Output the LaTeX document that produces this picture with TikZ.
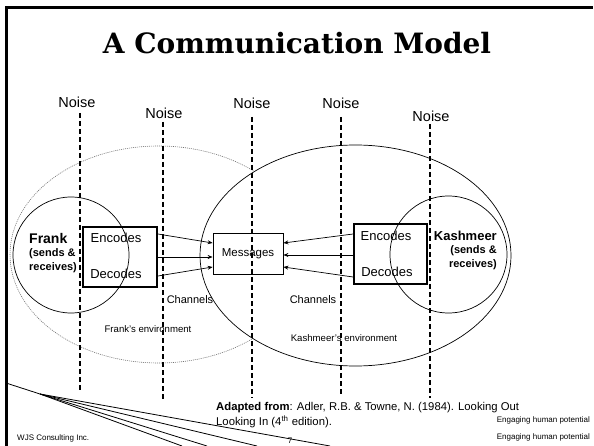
\documentclass[tikz,border=0pt]{standalone}
\usepackage{fontspec}
\setmainfont{Liberation Sans}
\newfontfamily\titlefont{DejaVu Serif}
\usetikzlibrary{arrows.meta}

\begin{document}
\begin{tikzpicture}[x=1pt,y=-1pt,
  frameline/.style={line width=3pt,black},
  noiseline/.style={line width=1.1pt,dash pattern=on 5pt off 3pt},
  noiselabel/.style={font=\fontsize{14.5}{17}\selectfont,inner sep=0pt},
  person/.style={draw,line width=0.7pt,circle,minimum size=116pt,inner sep=0pt},
  codebox/.style={draw,line width=1.8pt,minimum width=74pt,minimum height=60pt,inner sep=0pt},
  codetext/.style={font=\fontsize{13}{15}\selectfont,inner sep=0pt},
  msgbox/.style={draw,line width=0.8pt,minimum width=70pt,minimum height=41pt,inner sep=0pt,
    font=\fontsize{11.5}{13}\selectfont},
  msgarrow/.style={line width=0.7pt,-{Stealth[length=5pt,width=4pt]}},
  smalltext/.style={font=\fontsize{11}{13}\selectfont,inner sep=0pt},
  envtext/.style={font=\fontsize{9.6}{11}\selectfont,inner sep=0pt},
  foot/.style={font=\fontsize{8}{9}\selectfont,inner sep=0pt},
  swoosh/.style={line width=0.8pt}]
\useasboundingbox (0,0) rectangle (594,446);

% slide frame
\draw[frameline] (6,446) -- (6,8) -- (593,8);

% title
\node (title) at (297,43) {\titlefont\bfseries\fontsize{28}{32}\selectfont A Communication Model};

% environments
\draw[black!55,line width=0.6pt,dash pattern=on 1pt off 1pt] (158.7,254.5) ellipse [x radius=148.7, y radius=108.5];
\draw[fill=white,line width=0.7pt] (355.5,255.5) ellipse [x radius=155.5, y radius=110.5];
\node[envtext] (fenv) at (148,329) {Frank’s environment};
\node[envtext] (kenv) at (344,338) {Kashmeer’s environment};

% noise sources with their dashed lines
\node[noiselabel] (n1) at (77,102) {Noise};
\node[noiselabel] (n2) at (164,113) {Noise};
\node[noiselabel] (n3) at (252,103) {Noise};
\node[noiselabel] (n4) at (341,103) {Noise};
\node[noiselabel] (n5) at (431,116) {Noise};
\coordinate (e1) at (80,392);
\coordinate (e2) at (163,400);
\coordinate (e3) at (252,398);
\coordinate (e4) at (341,394);
\coordinate (e5) at (430,398);
\draw[noiseline] (80,113) -- (e1);
\draw[noiseline] (163,122) -- (e2);
\draw[noiseline] (252,117) -- (e3);
\draw[noiseline] (341,117) -- (e4);
\draw[noiseline] (430,124) -- (e5);

% the two persons
\node[person] (frank) at (71,255) {};
\node[person,minimum size=117pt] (kash) at (448.5,254.5) {};

% Frank
\node[font=\bfseries\fontsize{14}{16}\selectfont,inner sep=0pt,anchor=west] (fname) at (29,238) {Frank};
\node[font=\bfseries\fontsize{11}{13}\selectfont,inner sep=0pt,anchor=west] (frole1) at (29,254) {(sends \&};
\node[font=\bfseries\fontsize{11}{13}\selectfont,inner sep=0pt,anchor=west] (frole2) at (29,268) {receives)};
\node[codebox] (fbox) at (120,257) {};
\node[codetext] (fenc) at (116,238) {Encodes};
\node[codetext] (fdec) at (116,274) {Decodes};

% Kashmeer
\node[font=\bfseries\fontsize{13}{15}\selectfont,inner sep=0pt,anchor=east] (kname) at (497,236) {Kashmeer};
\node[font=\bfseries\fontsize{11}{13}\selectfont,inner sep=0pt,anchor=east] (krole1) at (497,251) {(sends \&};
\node[font=\bfseries\fontsize{11}{13}\selectfont,inner sep=0pt,anchor=east] (krole2) at (497,265) {receives)};
\node[codebox,minimum width=73pt] (kbox) at (390.5,254) {};
\node[codetext] (kenc) at (386,236) {Encodes};
\node[codetext] (kdec) at (387,272) {Decodes};

% message and channels
\node[msgbox] (msg) at (248,253.5) {Messages};
\draw[msgarrow] ([yshift=23pt]fbox.east) -- ([yshift=10.5pt]msg.west);
\draw[msgarrow] ([yshift=0pt]fbox.east) -- ([yshift=-3.5pt]msg.west);
\draw[msgarrow] ([yshift=-19pt]fbox.east) -- ([yshift=-13.5pt]msg.west);
\draw[msgarrow] ([yshift=20pt]kbox.west) -- ([yshift=10.5pt]msg.east);
\draw[msgarrow] ([yshift=-1pt]kbox.west) -- ([yshift=-1.5pt]msg.east);
\draw[msgarrow] ([yshift=-23pt]kbox.west) -- ([yshift=-13.5pt]msg.east);
\node[smalltext] (ch1) at (190,300) {Channels};
\node[smalltext] (ch2) at (313,300) {Channels};

% source note
\node[font=\fontsize{11.3}{15}\selectfont,inner sep=0pt,anchor=north west,align=left] (src) at (216,402)
  {\textbf{Adapted from}: Adler, R.B. \& Towne, N. (1984). Looking Out\\Looking In (4\textsuperscript{th} edition).};

% footer
\node[foot,anchor=west] (wjs) at (17,438) {WJS Consulting Inc.};
\node[foot,anchor=east] (eng1) at (590,420) {Engaging human potential};
\node[foot,anchor=east] (eng2) at (590,437) {Engaging human potential};
\node[foot] (page) at (290,441) {7};

% decorative swoosh lines
\coordinate (s0) at (6,383);
\coordinate (s1) at (40,394);
\coordinate (t1) at (330,446);
\coordinate (t2) at (257,446);
\coordinate (t3) at (207,446);
\coordinate (t4) at (182,446);
\draw[swoosh] (s0) -- (s1) -- (t1);
\draw[swoosh] (s1) -- (t2);
\draw[swoosh] (s1) -- (t3);
\draw[swoosh] (s1) -- (t4);
\end{tikzpicture}
\end{document}
